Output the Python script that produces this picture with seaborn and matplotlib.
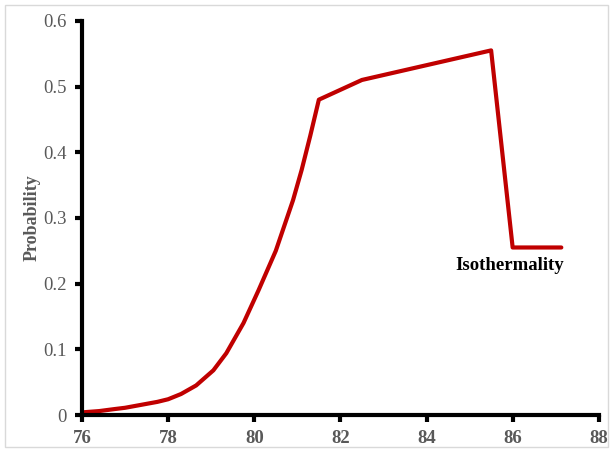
import matplotlib
matplotlib.use("Agg")
import matplotlib.pyplot as plt
import seaborn as sns
from matplotlib.patches import Rectangle

# temperature (x) and probability (y)
temps = [76, 76.4, 76.75, 77, 77.5, 77.75, 78, 78.3, 78.65, 79.05, 79.35,
         79.75, 80.1, 80.5, 80.9, 81.1, 81.3, 81.5,
         82.5, 85.5, 86, 87.13]
probs = [0.004, 0.006, 0.009, 0.011, 0.017, 0.020, 0.024, 0.032, 0.045,
         0.068, 0.094, 0.140, 0.19, 0.25, 0.327, 0.373, 0.425, 0.48,
         0.51, 0.555, 0.255, 0.255]
x_ticks = [76, 78, 80, 82, 84, 86, 88]
y_ticks = [0, 0.1, 0.2, 0.3, 0.4, 0.5, 0.6]
y_tick_labels = ["0", "0.1", "0.2", "0.3", "0.4", "0.5", "0.6"]

sns.set_style("white")
plt.rcParams['font.family'] = ['Liberation Serif', 'DejaVu Serif']

fig = plt.figure(figsize=(6.13, 4.51), dpi=100)
ax = fig.add_axes([0.1338, 0.0798, 0.843, 0.874])

sns.lineplot(x=temps, y=probs, ax=ax, color="#C00000", linewidth=3,
             estimator=None, sort=False)
ax.lines[0].set_solid_joinstyle("round")

ax.set_xlim(76, 88)
ax.set_ylim(0, 0.6)
ax.set_xticks(x_ticks)
ax.set_xticklabels([str(t) for t in x_ticks], fontweight="bold",
                   fontsize=13.5, color="#595959")
ax.set_yticks(y_ticks)
ax.set_yticklabels(y_tick_labels, fontsize=13.5, color="#595959")

for side in ["top", "right"]:
    ax.spines[side].set_visible(False)
for side in ["left", "bottom"]:
    ax.spines[side].set_linewidth(3)
    ax.spines[side].set_color("black")
    ax.spines[side].set_capstyle("projecting")

ax.tick_params(axis="both", direction="out", length=5, width=3,
               color="black", pad=6)
ax.tick_params(axis="x", bottom=True)
ax.tick_params(axis="y", left=True)

ax.set_ylabel("Probability", fontsize=13, fontweight="bold", color="#595959")
ax.yaxis.set_label_coords(-0.08, 0.5)
ax.set_xlabel("")

ax.text(85.93, 0.227, "Isothermality", fontsize=13.5, fontweight="bold",
        color="black", ha="center", va="center")

fig.patches.append(Rectangle((0.008, 0.008), 0.984, 0.981, transform=fig.transFigure,
                             fill=False, edgecolor="#d9d9d9", linewidth=1))

plt.savefig("out.png", dpi=100)
